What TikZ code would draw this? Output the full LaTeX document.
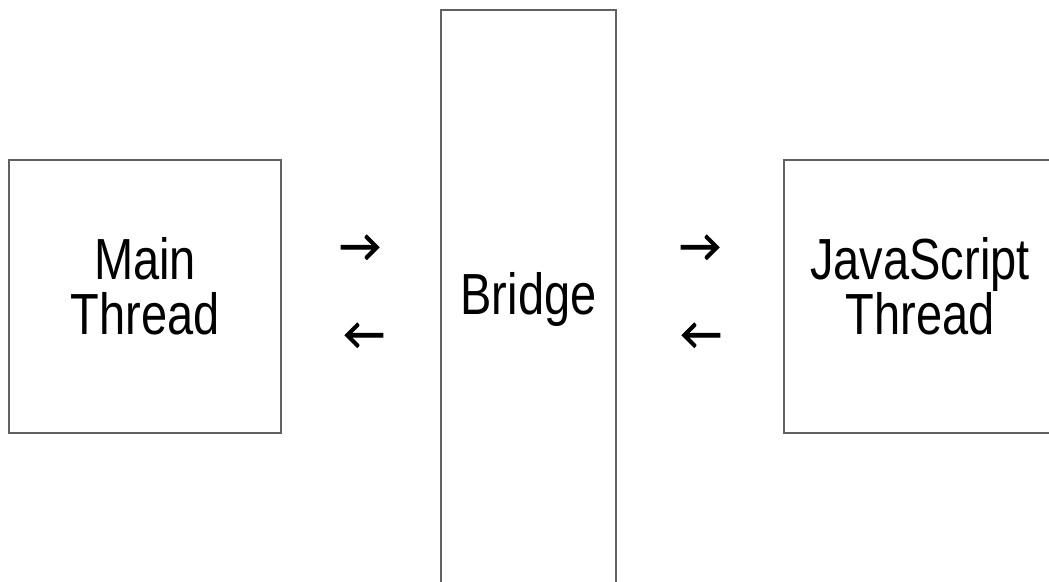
\documentclass[tikz,border=0pt]{standalone}
\usepackage{fontspec}
\setmainfont{Liberation Sans}
\newfontfamily\labelfont[FakeStretch=0.81]{Liberation Sans}
\newfontfamily\arrowfont[FakeBold=2.5]{Carlito}
\begin{document}
\begin{tikzpicture}[x=1pt,y=-1pt,
  block/.style={draw=black!62, line width=1.6pt, inner sep=0pt},
  caption/.style={inner sep=0pt, align=center,
    font=\labelfont\fontsize{58}{55}\selectfont},
  glyph/.style={inner sep=0pt, font=\arrowfont\fontsize{45}{45}\selectfont}]
\useasboundingbox (0,0) rectangle (1049,581);
\clip (0,0) rectangle (1049,581);
% the two thread boxes and the bridge between them
\node[block, minimum width=272pt, minimum height=273pt] (main) at (145,296.5) {};
\node[block, minimum width=175pt, minimum height=576pt] (bridge) at (528.5,298) {};
\node[block, minimum width=272pt, minimum height=273pt] (js) at (920,296.5) {};
\node[caption] (mainT) at ([yshift=10pt]main.center) {Main\\Thread};
\node[caption] (bridgeT) at ([yshift=-1pt]bridge.center) {Bridge};
\node[caption] (jsT) at ([yshift=10pt]js.center) {JavaScript\\Thread};
% message directions
\node[glyph] (mb) at (360,248) {→};
\node[glyph] (bm) at (364,336) {←};
\node[glyph] (bj) at (700,248) {→};
\node[glyph] (jb) at (701,336) {←};
\end{tikzpicture}
\end{document}
